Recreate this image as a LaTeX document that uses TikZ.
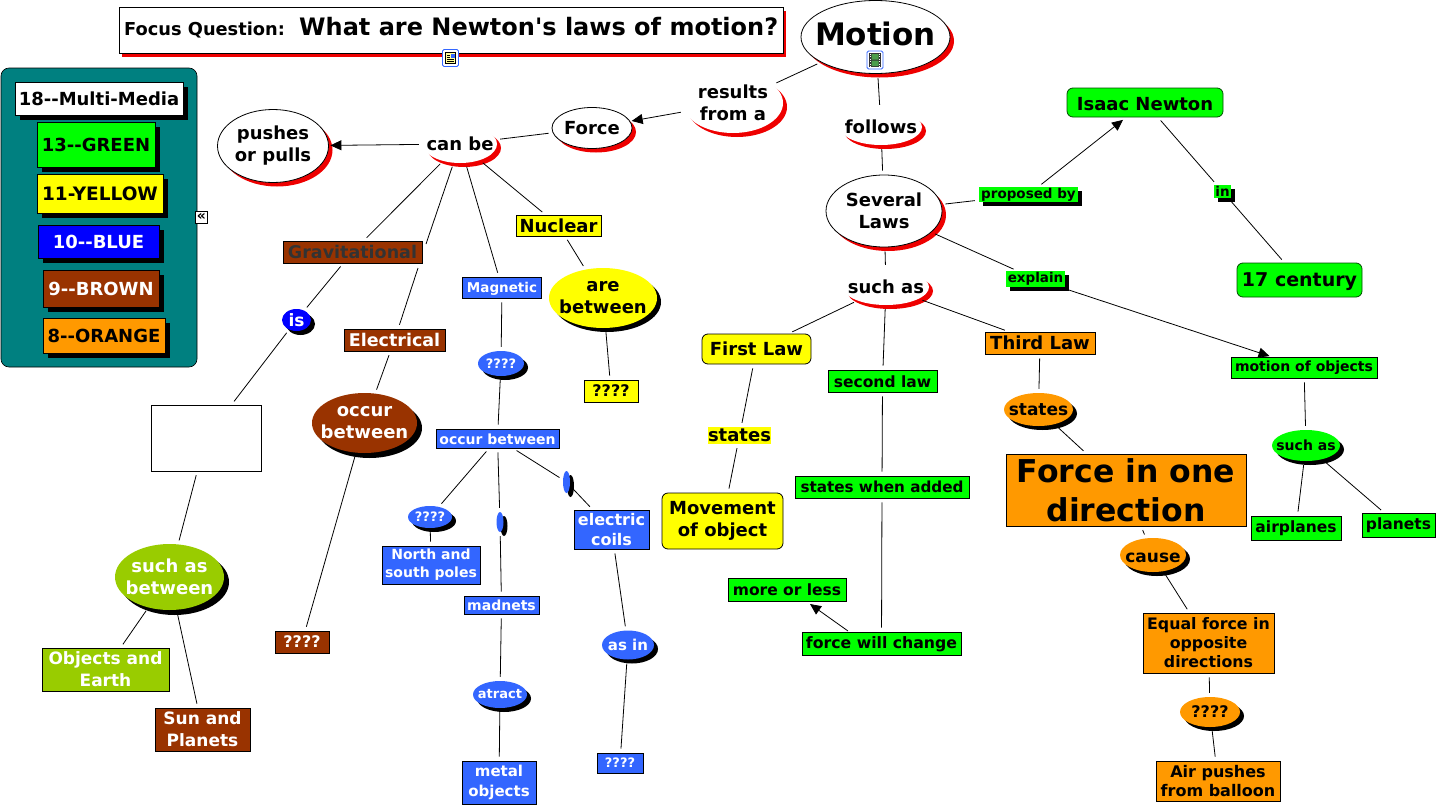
\documentclass[tikz,border=0pt]{standalone}
\usepackage{fontspec}
\setmainfont{DejaVu Sans}
\usetikzlibrary{shapes.geometric,shadows,arrows.meta}
\definecolor{cteal}{HTML}{008080}
\definecolor{cgreen}{HTML}{00FF00}
\definecolor{cyellow}{HTML}{FFFF00}
\definecolor{cblue}{HTML}{0000FF}
\definecolor{cbrown}{HTML}{993300}
\definecolor{corange}{HTML}{FF9900}
\definecolor{cmed}{HTML}{3366FF}
\definecolor{colive}{HTML}{99CC00}
\definecolor{cred}{HTML}{EE0000}
\definecolor{cdark}{HTML}{333333}
\tikzset{
  sz/.style 2 args={minimum width=#1pt,minimum height=#2pt},
  fs/.style 2 args={font=\fontsize{#1}{#2}\selectfont\bfseries},
  box/.style={rectangle,draw=black,line width=.8pt,inner sep=-8pt,align=center},
  rbox/.style={box,rounded corners=6pt},
  egg/.style={ellipse,inner sep=-32pt,align=center},
  oval/.style={egg,draw=black,line width=.8pt,fill=white},
  rs/.style={general shadow={shadow xshift=4pt,shadow yshift=-4pt,fill=cred}},
  bs/.style={general shadow={shadow xshift=4pt,shadow yshift=-4pt,fill=black}},
  ls/.style={general shadow={shadow xshift=5pt,shadow yshift=-5pt,fill=black}},
  link/.style={egg,fill=white,rs},
  tag/.style={rectangle,inner sep=-8pt,align=center,fill=cgreen},
  wtxt/.style={text=white},
  conn/.style={line width=.8pt,shorten <=4pt,shorten >=4pt},
  arr/.style={conn,shorten >=1.5pt,-{Triangle[length=11pt,width=10pt]}},
  icon/.style={rectangle,rounded corners=1.5pt,draw=cmed,line width=.8pt,fill=white,sz={16}{17},inner sep=0pt},
}
\begin{document}
\begin{tikzpicture}[x=1pt,y=-1pt]
\useasboundingbox (0,0) rectangle (1443,811);
% legend
\node[rectangle,rounded corners=8pt,draw=black,line width=.6pt,fill=cteal,sz={196}{299}] (panel) at (99,217.5) {};
\node[box,ls,fill=white,sz={168}{33},fs={18}{22}] (l18) at (99,98.5) {18-{}-Multi-Media};
\node[box,ls,fill=cgreen,sz={118}{45},fs={18}{22}] (l13) at (96,144.5) {13-{}-GREEN};
\node[box,ls,fill=cyellow,sz={126}{39},fs={18.5}{22}] (l11) at (100,193.5) {11-YELLOW};
\node[box,ls,fill=cblue,sz={121}{33},fs={18}{22},wtxt] (l10) at (98.5,241.5) {10-{}-BLUE};
\node[box,ls,fill=cbrown,sz={116}{37},fs={18}{22},wtxt] (l9) at (101,288.5) {9-{}-BROWN};
\node[box,ls,fill=corange,sz={122}{35},fs={18}{22}] (l8) at (104,335.5) {8-{}-ORANGE};
\node[rectangle,draw=black,line width=.6pt,fill=white,sz={12.5}{12},inner sep=-4pt,fs={14}{14}] (coll) at (201.5,217) {«};
% title
\node[box,fill=white,general shadow={shadow xshift=3pt,shadow yshift=-4pt,fill=cred},sz={664}{46}] (focus) at (451,30) {};
\node[anchor=base west,inner sep=0pt,fs={17.8}{21}] (fq) at (124,35) {Focus Question:};
\node[anchor=base west,inner sep=0pt,fs={24}{29}] (fq2) at (299,35) {What are Newton\XeTeXglyph\XeTeXglyphindex"quotesingle"\relax s laws of motion?};
\node[icon] (noteicon) at (450.5,58) {};
\fill[cyellow!40!white,draw=black,line width=.5pt] (445.5,52.5) rectangle (455.5,63.5);
\fill[cmed] (451,53.5) rectangle (455,57.5);
\draw[line width=.5pt] (447,59) -- (454,59) (447,61) -- (454,61) (447,55) -- (450,55) (447,57) -- (450,57);
% motion
\node[oval,rs,sz={149}{73},fs={31}{38},text height=20pt,text depth=3pt] (motion) at (875.5,37) {Motion};
\node[icon,sz={16}{18}] (filmicon) at (875,60) {};
\fill[black!80] (869,53) rectangle (881,67);
\fill[green!45!black!70!white] (871.5,54) rectangle (878.5,59.5) (871.5,60.5) rectangle (878.5,66);
\draw[white,line width=1pt,dash pattern=on 1pt off 1.5pt] (870.2,53.5) -- (870.2,67) (879.8,53.5) -- (879.8,67);
\node[link,sz={100}{60},fs={18}{22}] (results) at (733,103) {results\\from a};
\node[oval,rs,sz={80}{41},fs={18}{22}] (force) at (592,128) {Force};
\node[link,sz={74}{38},fs={18}{22}] (canbe) at (460,144) {can be};
\node[oval,rs,sz={111}{73},fs={18}{22}] (pushes) at (273,146) {pushes\\or pulls};
\node[link,sz={82}{36},fs={18}{22}] (follows) at (881,127) {follows};
\node[oval,rs,sz={116}{72},fs={18}{22}] (several) at (884,211) {Several\\Laws};
\node[link,sz={86}{36},fs={18}{22}] (suchas) at (886,287) {such as};
% gravitational
\node[box,fill=cbrown,sz={139}{22},fs={17.5}{21},text=cdark] (grav) at (352.5,252) {Gravitational};
\node[box,fill=cbrown,sz={101}{22},fs={17.5}{21},wtxt] (elec) at (394.5,340) {Electrical};
\node[egg,bs,fill=cblue,sz={29}{22},fs={17}{21},wtxt] (is) at (296.5,320) {is};
\node[box,fill=white,sz={110}{66}] (blank) at (206,438) {};
\node[egg,ls,fill=cbrown,sz={105}{60},fs={18}{22},wtxt] (occb) at (364.5,423) {occur\\between};
\node[box,fill=cbrown,sz={54}{22},fs={16}{20},wtxt] (qbrown) at (302,642) {????};
\node[egg,ls,fill=colive,sz={109}{66},fs={18}{22},wtxt] (suchb) at (169.5,577) {such as\\between};
\node[box,fill=colive,sz={127}{43},fs={17}{22},wtxt] (objects) at (105.5,669.5) {Objects and\\Earth};
\node[box,fill=cbrown,sz={95}{43},fs={17}{22},wtxt] (sun) at (202.5,729.5) {Sun and\\Planets};
% magnetic
\node[box,fill=cmed,sz={79}{21},fs={13.5}{17},wtxt,text height=12pt] (magnetic) at (502,287.5) {Magnetic};
\node[egg,bs,fill=cmed,sz={46}{25},fs={13}{16},wtxt] (qb1) at (501,363.5) {????};
\node[box,fill=cmed,sz={123}{19},fs={14}{17},wtxt,text height=12pt] (occm) at (497.5,438.5) {occur between};
\node[egg,bs,fill=cmed,sz={44}{22},fs={13}{16},wtxt] (qb2) at (430,517) {????};
\node[egg,bs,fill=cmed,sz={7}{20}] (dotb1) at (500,522) {};
\node[egg,bs,fill=cmed,sz={7}{22}] (dotb2) at (566.5,482) {};
\node[box,fill=cmed,sz={98}{38},fs={14}{18},wtxt] (north) at (431,565) {North and\\south poles};
\node[box,fill=cmed,sz={75}{18},fs={14}{17},wtxt] (madnets) at (501.5,605) {madnets};
\node[box,fill=cmed,sz={75}{39},fs={16}{20},wtxt] (coils) at (611.5,529.5) {electric\\coils};
\node[egg,bs,fill=cmed,sz={52}{29},fs={15}{18},wtxt] (asin) at (628,645) {as in};
\node[box,fill=cmed,sz={46}{20},fs={13}{16},wtxt] (qb3) at (620,763) {????};
\node[egg,bs,fill=cmed,sz={54}{27},fs={13}{16},wtxt] (atract) at (500,694.5) {atract};
\node[box,fill=cmed,sz={74}{43},fs={15}{20},wtxt] (metal) at (499,782.5) {metal\\objects};
% nuclear
\node[box,fill=cyellow,sz={85}{21},fs={18}{21},text height=15pt] (nuclear) at (558.5,225.5) {Nuclear};
\node[egg,bs,fill=cyellow,sz={108}{60},fs={18}{22}] (areb) at (603,298) {are\\between};
\node[box,fill=cyellow,sz={54}{22},fs={16}{20}] (qy) at (611,391) {????};
% first law
\node[rbox,fill=cyellow,sz={109}{30},fs={18}{21}] (first) at (756.5,349) {First Law};
\node[tag,fill=cyellow,sz={63}{17},fs={18}{20}] (statesy) at (739.5,435.5) {states};
\node[rbox,fill=cyellow,sz={121}{56},fs={18}{22}] (movement) at (722.5,521) {Movement\\of object};
% second law
\node[box,fill=cgreen,sz={109}{22},fs={15.5}{18},text height=13pt] (second) at (882.5,381) {second law};
\node[box,fill=cgreen,sz={174}{22},fs={15.2}{18}] (swa) at (882,487) {states when added};
\node[box,fill=cgreen,sz={159}{23},fs={15.7}{18},text height=14pt] (fwc) at (881.5,643.5) {force will change};
\node[box,fill=cgreen,sz={118}{23},fs={15.5}{18}] (mol) at (787,589.5) {more or less};
% third law
\node[box,fill=corange,sz={110}{22},fs={18}{21}] (third) at (1040,343) {Third Law};
\node[egg,bs,fill=corange,sz={69}{33},fs={17}{21}] (stateso) at (1038.5,409.5) {states};
\node[box,fill=corange,sz={240}{72},fs={31.5}{39}] (fiod) at (1126,490) {Force in one\\direction};
\node[egg,bs,fill=corange,sz={66}{34},fs={17}{21},text height=16pt] (cause) at (1153,555) {cause};
\node[box,fill=corange,sz={131}{60},fs={15.8}{19}] (equal) at (1208.5,643) {Equal force in\\opposite\\directions};
\node[egg,bs,fill=corange,sz={60}{30},fs={16}{20}] (qo) at (1210,712) {????};
\node[box,fill=corange,sz={124}{40},fs={16}{19}] (air) at (1218,781) {Air pushes\\from balloon};
% newton
\node[rbox,draw=black!70!green,fill=cgreen,sz={156}{29},fs={18}{22},text height=17pt] (newton) at (1145,102.5) {Isaac Newton};
\node[rbox,draw=black!70!green,fill=cgreen,sz={125}{34},fs={19}{23},text height=18pt] (century) at (1299.5,280) {17 century};
\node[tag,bs,sz={99}{15},fs={13.5}{15}] (proposed) at (1028.5,194.5) {proposed by};
\node[tag,bs,sz={17}{13},fs={13.5}{15}] (in) at (1222.5,191.5) {in};
\node[tag,bs,sz={59}{16},fs={13.5}{15}] (explain) at (1035.5,279) {explain};
\node[box,fill=cgreen,sz={146}{21},fs={14}{17}] (moo) at (1304,367.5) {motion of objects};
\node[egg,bs,fill=cgreen,sz={68}{31},fs={14}{17}] (suchg) at (1306,445.5) {such as};
\node[box,fill=cgreen,sz={90}{24},fs={15.5}{18}] (airplanes) at (1296,528) {airplanes};
\node[box,fill=cgreen,sz={73}{24},fs={15.5}{18}] (planets) at (1398.5,525) {planets};
% connectors
\coordinate (egapa) at (426,244);
\coordinate (egapb) at (418,268);
\coordinate (fwcs) at (848,631);
\coordinate (fwct) at (810,604);
\draw[conn] (motion) -- (results);
\draw[arr] (results) -- (force);
\draw[conn] (motion) -- (follows);
\draw[conn] (follows) -- (several);
\draw[conn] (several) -- (suchas);
\draw[conn] (force) -- (canbe);
\draw[arr] (canbe) -- (pushes);
\draw[conn] (canbe) -- (grav);
\draw[conn,shorten >=0pt] (canbe) -- (egapa);
\draw[conn,shorten <=0pt] (egapb) -- (elec);
\draw[conn] (canbe) -- (magnetic);
\draw[conn] (canbe) -- (nuclear);
\draw[conn] (nuclear) -- (areb);
\draw[conn] (areb) -- (qy);
\draw[conn] (grav) -- (is);
\draw[conn] (is) -- (blank);
\draw[conn] (blank) -- (suchb);
\draw[conn] (suchb) -- (objects);
\draw[conn] (suchb) -- (sun);
\draw[conn] (elec) -- (occb);
\draw[conn] (occb) -- (qbrown);
\draw[conn] (magnetic) -- (qb1);
\draw[conn] (qb1) -- (occm);
\draw[conn] (occm) -- (qb2);
\draw[conn] (occm) -- (dotb1);
\draw[conn] (occm) -- (dotb2);
\draw[conn] (qb2) -- (north);
\draw[conn] (dotb1) -- (madnets);
\draw[conn] (dotb2) -- (coils);
\draw[conn] (madnets) -- (atract);
\draw[conn] (atract) -- (metal);
\draw[conn] (coils) -- (asin);
\draw[conn] (asin) -- (qb3);
\draw[conn] (suchas) -- (first);
\draw[conn] (suchas) -- (second);
\draw[conn] (suchas) -- (third);
\draw[conn] (first) -- (statesy);
\draw[conn] (statesy) -- (movement);
\draw[conn] (second) -- (swa);
\draw[conn] (swa) -- (fwc);
\draw[arr,shorten <=0pt,shorten >=0pt] (fwcs) -- (fwct);
\draw[conn] (third) -- (stateso);
\draw[conn] (stateso) -- (fiod);
\draw[conn] (fiod) -- (cause);
\draw[conn] (cause) -- (equal);
\draw[conn] (equal) -- (qo);
\draw[conn] (qo) -- (air);
\draw[conn] (several) -- (proposed);
\draw[arr,shorten >=4pt] (proposed) -- (newton);
\draw[conn] (newton) -- (in);
\draw[conn] (in) -- (century);
\draw[conn] (several) -- (explain);
\draw[arr] (explain) -- (moo);
\draw[conn] (moo) -- (suchg);
\draw[conn] (suchg) -- (airplanes);
\draw[conn] (suchg) -- (planets);
\end{tikzpicture}
\end{document}
